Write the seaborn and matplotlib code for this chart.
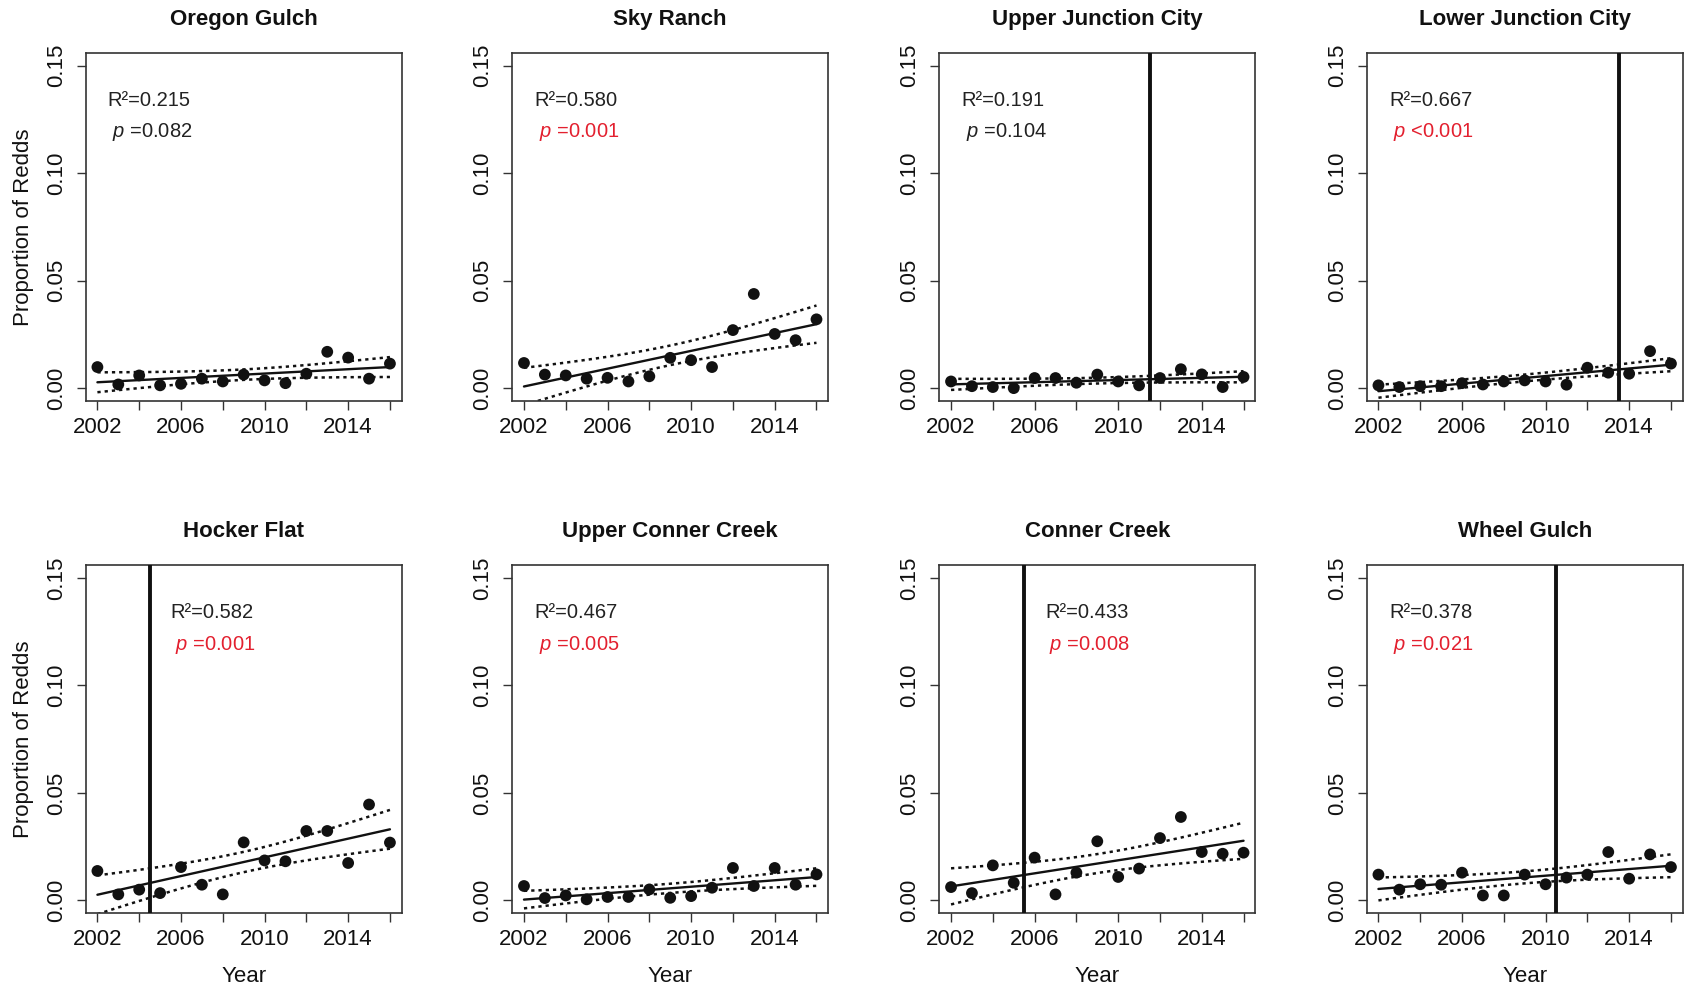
import numpy as np
import pandas as pd
import matplotlib
matplotlib.use("Agg")
import matplotlib.pyplot as plt
import seaborn as sns

# ---- data -------------------------------------------------------------
years = list(range(2002, 2017))

sites = ["Oregon Gulch", "Sky Ranch", "Upper Junction City", "Lower Junction City",
         "Hocker Flat", "Upper Conner Creek", "Conner Creek", "Wheel Gulch"]

oregon_gulch = [0.0098, 0.0017, 0.0059, 0.0013, 0.0020, 0.0044, 0.0031, 0.0063,
                0.0036, 0.0023, 0.0067, 0.0169, 0.0142, 0.0044, 0.0114]
sky_ranch = [0.0117, 0.0063, 0.0059, 0.0044, 0.0048, 0.0031, 0.0055, 0.0141,
             0.0130, 0.0098, 0.0270, 0.0438, 0.0252, 0.0223, 0.0320]
upper_junction_city = [0.0031, 0.0009, 0.0005, 0.0000, 0.0047, 0.0047, 0.0025, 0.0063,
                       0.0031, 0.0013, 0.0047, 0.0088, 0.0064, 0.0005, 0.0052]
lower_junction_city = [0.0013, 0.0005, 0.0009, 0.0009, 0.0023, 0.0017, 0.0031, 0.0036,
                       0.0031, 0.0016, 0.0095, 0.0072, 0.0067, 0.0172, 0.0114]
hocker_flat = [0.0137, 0.0028, 0.0050, 0.0034, 0.0155, 0.0073, 0.0028, 0.0270,
               0.0186, 0.0182, 0.0323, 0.0323, 0.0174, 0.0446, 0.0269]
upper_conner_creek = [0.0067, 0.0011, 0.0023, 0.0005, 0.0016, 0.0016, 0.0051, 0.0012,
                      0.0020, 0.0059, 0.0151, 0.0067, 0.0151, 0.0073, 0.0121]
conner_creek = [0.0062, 0.0034, 0.0163, 0.0082, 0.0199, 0.0028, 0.0129, 0.0275,
                0.0109, 0.0148, 0.0290, 0.0388, 0.0225, 0.0217, 0.0222]
wheel_gulch = [0.0120, 0.0050, 0.0075, 0.0073, 0.0129, 0.0023, 0.0023, 0.0120,
               0.0075, 0.0106, 0.0120, 0.0225, 0.0101, 0.0214, 0.0155]

site_values = [oregon_gulch, sky_ranch, upper_junction_city, lower_junction_city,
               hocker_flat, upper_conner_creek, conner_creek, wheel_gulch]

r_squared = ["0.215", "0.580", "0.191", "0.667", "0.582", "0.467", "0.433", "0.378"]
p_values = ["=0.082", "=0.001", "=0.104", "<0.001", "=0.001", "=0.005", "=0.008", "=0.021"]
significant = [False, True, False, True, True, True, True, True]
# year of the change marked by a vertical line (None = no line)
change_year = [None, None, 2011.5, 2013.5, 2004.5, None, 2005.5, 2010.5]
stats_x = [2002.5, 2002.5, 2002.5, 2002.5, 2005.5, 2002.5, 2006.5, 2002.5]

x_ticks = [2002, 2004, 2006, 2008, 2010, 2012, 2014, 2016]
x_tick_labels = ["2002", "", "2006", "", "2010", "", "2014", ""]
y_ticks = [0.00, 0.05, 0.10, 0.15]
y_tick_labels = ["0.00", "0.05", "0.10", "0.15"]

# ---- style ------------------------------------------------------------
sns.set_theme(style="ticks")
plt.rcParams["font.family"] = ["Liberation Sans", "DejaVu Sans"]
plt.rcParams["mathtext.fontset"] = "custom"
plt.rcParams["mathtext.rm"] = "Liberation Sans"
plt.rcParams["mathtext.it"] = "Liberation Sans:italic"

RED = "#e3202f"
INK = "#111111"


def confidence_band(x, y, grid, t=2.1604):
    """OLS fit with 95% confidence limits for the mean response."""
    x = np.asarray(x, float)
    y = np.asarray(y, float)
    n = len(x)
    slope, intercept = np.polyfit(x, y, 1)
    resid = y - (intercept + slope * x)
    s = np.sqrt(resid @ resid / (n - 2))
    sxx = ((x - x.mean()) ** 2).sum()
    fit = intercept + slope * grid
    se = s * np.sqrt(1.0 / n + (grid - x.mean()) ** 2 / sxx)
    return fit - t * se, fit + t * se


fig = plt.figure(figsize=(16.84, 9.88), dpi=100)

col_left = [0.0509, 0.3042, 0.5578, 0.8116]
row_bottom = [0.5941, 0.0756]
ax_w, ax_h = 0.1876, 0.3525

grid = np.linspace(years[0], years[-1], 100)

for i, (site, vals) in enumerate(zip(sites, site_values)):
    r, c = divmod(i, 4)
    ax = fig.add_axes([col_left[c], row_bottom[r], ax_w, ax_h])
    df = pd.DataFrame({"Year": years, "Proportion": vals})

    sns.regplot(data=df, x="Year", y="Proportion", ax=ax, ci=None, truncate=True,
                scatter_kws=dict(s=72, color=INK, edgecolor="none", alpha=1, zorder=3),
                line_kws=dict(color=INK, lw=1.7, zorder=2))

    lo, hi = confidence_band(years, vals, grid)
    for band in (lo, hi):
        ax.plot(grid, band, color=INK, lw=1.8, linestyle=(0, (1.3, 1.6)), zorder=2)

    if change_year[i] is not None:
        ax.axvline(change_year[i], color=INK, lw=2.8, zorder=4)

    ax.set_xlim(2001.44, 2016.56)
    ax.set_ylim(-0.006, 0.156)
    ax.set_xticks(x_ticks)
    ax.set_xticklabels(x_tick_labels)
    ax.set_yticks(y_ticks)
    ax.set_yticklabels(y_tick_labels, rotation=90, va="center")
    ax.tick_params(axis="both", length=6.5, width=1.0, color="#333333",
                   labelsize=16, labelcolor=INK)
    ax.tick_params(axis="x", pad=5)
    ax.tick_params(axis="y", pad=7)
    for sp in ax.spines.values():
        sp.set_visible(True)
        sp.set_color("#333333")
        sp.set_linewidth(1.2)

    ax.set_title(site, fontsize=16, fontweight="bold", pad=20, color=INK)

    ax.text(stats_x[i], 0.134, f"R\u00b2={r_squared[i]}", fontsize=14.5,
            ha="left", va="center", color="#222222")
    ax.text(stats_x[i] + 0.2, 0.119, f"$\\mathit{{p}}$ {p_values[i]}", fontsize=14.5,
            ha="left", va="center", color=RED if significant[i] else "#222222")

    if c == 0:
        ax.set_ylabel("Proportion of Redds", fontsize=16, color=INK)
        ax.yaxis.set_label_coords(-0.165, 0.5)
    else:
        ax.set_ylabel("")
    if r == 1:
        ax.set_xlabel("Year", fontsize=16, color=INK)
        ax.xaxis.set_label_coords(0.5, -0.15)
    else:
        ax.set_xlabel("")

fig.savefig("out.png", dpi=100, facecolor="white")
